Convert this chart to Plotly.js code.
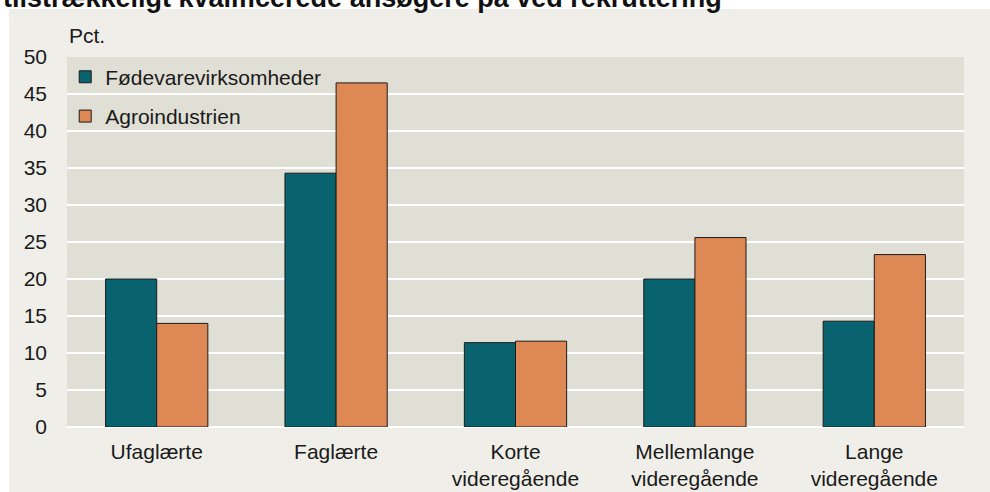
<!DOCTYPE html>
<html>
<head>
<meta charset="utf-8">
<script src="https://cdn.plot.ly/plotly-3.0.1.min.js"></script>
<style>html,body{margin:0;padding:0;background:#fff;}#chart{width:990px;height:492px;}</style>
</head>
<body>
<div id="chart"></div>
<script>
const titleText = 'tilstrækkeligt kvalificerede ansøgere på ved rekruttering';
const unitLabel = 'Pct.';
const categories = ['Ufaglærte', 'Faglærte', 'Korte<br>videregående', 'Mellemlange<br>videregående', 'Lange<br>videregående'];
const seriesNames = ['Fødevarevirksomheder', 'Agroindustrien'];
const foedevare = [20.0, 34.3, 11.4, 20.0, 14.3];
const agro = [14.0, 46.5, 11.6, 25.6, 23.3];
const yTicks = [0, 5, 10, 15, 20, 25, 30, 35, 40, 45, 50];

const FONT = 'Liberation Sans, Arial, Helvetica, sans-serif';
const TXT = '#1a1a1a';

const traces = [
  {type: 'bar', name: seriesNames[0], x: categories, y: foedevare, legendgroup: 'a',
   marker: {color: '#09636F', line: {color: '#1b1b1b', width: 1}}, hoverinfo: 'none'},
  {type: 'bar', name: seriesNames[1], x: categories, y: agro, legendgroup: 'b',
   marker: {color: '#DE8855', line: {color: '#1b1b1b', width: 1}}, hoverinfo: 'none'}
];

const layout = {
  width: 990, height: 492,
  margin: {l: 67, r: 26, t: 57, b: 65, pad: 0},
  paper_bgcolor: '#ffffff',
  plot_bgcolor: 'rgba(0,0,0,0)',
  font: {family: FONT, size: 21, color: TXT},
  barmode: 'group', bargap: 0.43, bargroupgap: 0,
  title: {text: '<b>' + titleText + '</b>', font: {family: FONT, size: 27, color: '#111'},
          xref: 'container', x: 0.003, xanchor: 'left', yref: 'container', y: 0.986, yanchor: 'bottom'},
  xaxis: {type: 'category', showgrid: false, zeroline: false, showline: false, ticks: '',
          ticklabelstandoff: 10,
          tickfont: {family: FONT, size: 21, color: TXT}, automargin: false},
  yaxis: {range: [0, 50], tickvals: yTicks, ticktext: yTicks.map(String), showgrid: true,
          gridcolor: '#ffffff', gridwidth: 2, zeroline: true, zerolinecolor: '#ffffff', zerolinewidth: 2,
          showline: false, ticks: '', ticklabelstandoff: 19,
          tickfont: {family: FONT, size: 21, color: TXT}, automargin: false, fixedrange: true},
  legend: {x: -0.002, xanchor: 'left', y: 1.001, yanchor: 'top', bgcolor: 'rgba(0,0,0,0)',
           borderwidth: 0, traceorder: 'grouped', tracegroupgap: 9,
           font: {family: FONT, size: 21, color: TXT}},
  shapes: [
    {type: 'rect', xref: 'paper', yref: 'paper', x0: -0.0647, x1: 1.04, y0: -0.2, y1: 1.1297,
     fillcolor: '#EFEEE8', line: {width: 0}, layer: 'below'},
    {type: 'rect', xref: 'paper', yref: 'paper', x0: 0, x1: 1, y0: 0, y1: 1,
     fillcolor: '#E0DFD5', line: {width: 0}, layer: 'below'}
  ],
  annotations: [
    {text: unitLabel, xref: 'paper', yref: 'paper', x: 0.0, y: 1.059, xanchor: 'left', yanchor: 'middle',
     showarrow: false, font: {family: FONT, size: 21, color: TXT}}
  ]
};

Plotly.newPlot('chart', traces, layout, {displayModeBar: false, staticPlot: true});
</script>
</body>
</html>
